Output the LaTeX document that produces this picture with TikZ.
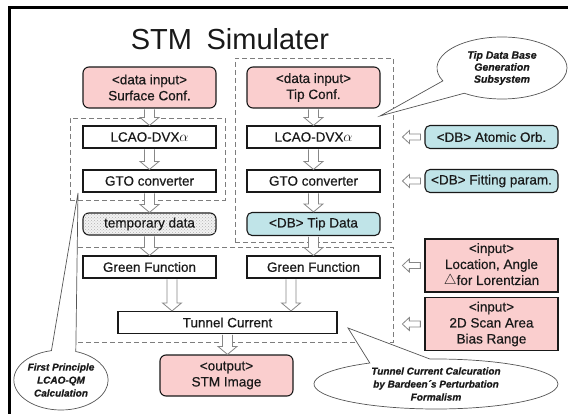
\documentclass[tikz,border=0pt]{standalone}
\usepackage{fontspec}
\setmainfont{Liberation Sans}
\newfontfamily\boxfont{Liberation Sans}[FakeBold=0.45]
\newfontfamily\notefont{Liberation Sans}[FakeBold=0.6]
\usetikzlibrary{calc,shapes.callouts,patterns}

\definecolor{inpink}{RGB}{250,206,206}
\definecolor{dbcyan}{RGB}{192,228,232}
\definecolor{dashgray}{RGB}{125,125,125}
\definecolor{arrgray}{RGB}{135,135,135}
\definecolor{bubblegray}{RGB}{85,85,85}
\definecolor{inkblack}{RGB}{25,25,25}

% hollow block arrow pointing down, from the bottom of one box to the top of the next
\newcommand{\downblock}[2]{%
  \draw[blockarrow] let \p1=(#1), \p2=(#2) in
    (\x1-5pt,\y1-0.8pt) -- (\x1-5pt,\y2+8pt) -- (\x1-9.5pt,\y2+8pt) -- (\x1,\y2)
    -- (\x1+9.5pt,\y2+8pt) -- (\x1+5pt,\y2+8pt) -- (\x1+5pt,\y1-0.8pt);}

% small hollow arrow pointing left, in front of a box of the side column
\newcommand{\inarrow}[1]{%
  \draw[blockarrow] let \p1=(#1.west) in
    (\x1-4pt,\y1+3pt) -- (\x1-15pt,\y1+3pt) -- (\x1-15pt,\y1+6.5pt) -- (\x1-22pt,\y1)
    -- (\x1-15pt,\y1-6.5pt) -- (\x1-15pt,\y1-3pt) -- (\x1-4pt,\y1-3pt) -- cycle;}

\begin{document}
\begin{tikzpicture}[x=1pt,y=-1pt,
  every node/.style={font=\boxfont\fontsize{13.5}{16}\selectfont, align=center, inner sep=0pt, text=inkblack},
  plainbox/.style={draw=inkblack, line width=1.1pt, fill=white, minimum width=133, minimum height=22},
  inputbox/.style={draw=inkblack, line width=1.1pt, fill=inpink, rounded corners=6pt, minimum width=133, minimum height=41},
  dbbox/.style={draw=inkblack, line width=1.1pt, fill=dbcyan, rounded corners=5pt, minimum width=133, minimum height=23},
  tempbox/.style={draw=inkblack, line width=1.1pt, rounded corners=6pt, fill=gray!10,
    postaction={pattern=crosshatch dots, pattern color=gray!60}, minimum width=133, minimum height=22},
  parambox/.style={draw=inkblack, line width=1.3pt, fill=inpink, minimum width=133, minimum height=53},
  sysbox/.style={draw=dashgray, line width=0.8pt, dash pattern=on 5pt off 3pt},
  blockarrow/.style={draw=arrgray, fill=white, line width=0.8pt, line join=miter},
  bubble/.style={ellipse callout, draw=bubblegray, fill=white, line width=0.7pt, callout pointer arc=30,
    font=\notefont\fontsize{10.5}{12}\selectfont\bfseries\itshape}]

\clip (0,0) rectangle (568,414);

% frame
\draw[line width=2.5pt] (9.5,7.5) rectangle (640,470);

% title
\node[font=\fontsize{29}{33}\selectfont, anchor=base] (title) at (230,50) {STM\hspace{0.5em}Simulater};

% subsystem frames
\node[sysbox, minimum width=155, minimum height=82] (fpsys) at (147.5,159) {};
\node[sysbox, minimum width=158, minimum height=184] (tipsys) at (314,150) {};
\node[sysbox, minimum width=323, minimum height=95] (tcsys) at (231.5,294.5) {};

% surface column
\node[inputbox] (surf) at (149.5,87.5) {<data input>\\Surface Conf.};
\node[plainbox] (lcaoL) at (149.5,137) {LCAO-DVX$\alpha$};
\node[plainbox] (gtoL) at (149.5,181) {GTO converter};
\node[tempbox] (temp) at (149.5,224) {temporary data};
\node[plainbox] (greenL) at (149.5,267) {Green Function};

% tip column
\node[inputbox] (tipc) at (313.5,87.5) {<data input>\\Tip Conf.};
\node[plainbox] (lcaoR) at (313.5,137) {LCAO-DVX$\alpha$};
\node[plainbox] (gtoR) at (313.5,181) {GTO converter};
\node[dbbox] (tipdb) at (313.5,224) {<DB> Tip Data};
\node[plainbox] (greenR) at (313.5,267) {Green Function};

% current and output
\node[plainbox, minimum width=219] (tunnel) at (227.5,322.5) {Tunnel Current};
\node[inputbox] (stm) at (226.5,375.5) {<output>\\STM Image};

% side inputs
\node[dbbox] (atom) at (491.5,137) {<DB> Atomic Orb.};
\node[dbbox] (fit) at (491.5,181) {<DB> Fitting param.};
\node[parambox] (loc) at (491.5,265.5) {<input>\\Location, Angle\\$\triangle$for Lorentzian};
\node[parambox] (scan) at (491.5,324) {<input>\\2D Scan Area\\Bias Range};

% data flow
\downblock{surf.south}{lcaoL.north}
\downblock{lcaoL.south}{gtoL.north}
\downblock{gtoL.south}{temp.north}
\downblock{temp.south}{greenL.north}
\downblock{tipc.south}{lcaoR.north}
\downblock{lcaoR.south}{gtoR.north}
\downblock{gtoR.south}{tipdb.north}
\downblock{tipdb.south}{greenR.north}
\downblock{$(greenL.south)+(22.5,0)$}{tunnel.north}
\downblock{$(greenR.south)+(-22.5,0)$}{tunnel.north}
\downblock{tunnel.south}{stm.north}

\inarrow{atom}
\inarrow{fit}
\inarrow{loc}
\inarrow{scan}

% notes
\node[bubble, minimum width=130, minimum height=62, callout absolute pointer={(380,116)}] (tipnote)
  at (502,68) {Tip Data Base\\Generation\\Subsystem};
\node[bubble, font=\notefont\fontsize{10}{13}\selectfont\bfseries\itshape, minimum width=94, minimum height=60,
  callout absolute pointer={(78,193)}] (fpnote) at (61,380) {First Principle\\LCAO-QM\\Calculation};
\node[bubble, font=\notefont\fontsize{10}{13}\selectfont\bfseries\itshape, minimum width=244, minimum height=50,
  callout absolute pointer={(348,328)}] (tcnote) at (436,384)
  {Tunnel Current Calcuration\\by Bardeen´s Perturbation\\Formalism};
\end{tikzpicture}
\end{document}
